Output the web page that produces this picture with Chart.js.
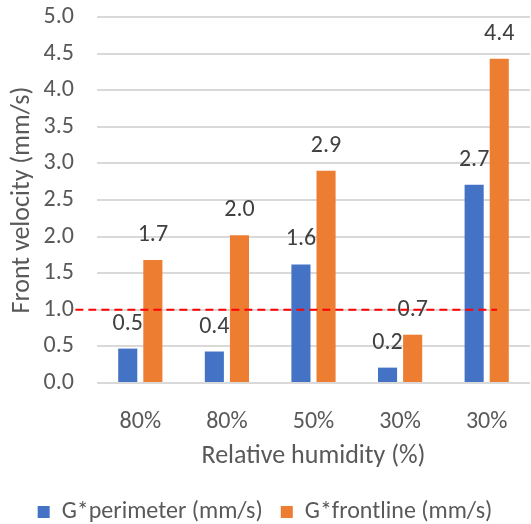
<!DOCTYPE html>
<html>
<head>
<meta charset="utf-8">
<script src="https://cdn.jsdelivr.net/npm/chart.js@4/dist/chart.umd.min.js"></script>
<style>
  html, body { margin: 0; padding: 0; background: #fff; }
  #wrap { width: 531px; height: 524px; }
</style>
</head>
<body>
<div id="wrap"><canvas id="velocity"></canvas></div>
<script>
const categories = ['80%', '80%', '50%', '30%', '30%'];
const perimeter = [0.47, 0.43, 1.62, 0.21, 2.71];
const frontline = [1.68, 2.02, 2.90, 0.66, 4.43];
const yTicks = [0, 0.5, 1, 1.5, 2, 2.5, 3, 3.5, 4, 4.5, 5];
const threshold = 1.0;
// ends of the dashed threshold, in category units along the x axis
const thresholdSpan = [-0.75, 4.12];

const textColor = '#595959';
const fontFamily = 'Carlito, Lato, sans-serif';
Chart.defaults.font.family = fontFamily;
Chart.defaults.font.size = 24;
Chart.defaults.color = textColor;

// value labels over each bar
const barLabels = {
	id: 'barLabels',
	afterDatasetDraw(chart, args) {
		const meta = args.meta;
		if (meta.type !== 'bar') return;
		const ctx = chart.ctx;
		const values = chart.data.datasets[args.index].data;
		ctx.save();
		ctx.font = '24px ' + fontFamily;
		ctx.fillStyle = '#404040';
		ctx.textAlign = 'center';
		ctx.textBaseline = 'middle';
		meta.data.forEach((bar, i) => {
			ctx.fillText(values[i].toFixed(1), bar.x, bar.y - 25);
		});
		ctx.restore();
	},
};

// red dashed threshold, drawn on top of bars and labels
const thresholdLine = {
	id: 'thresholdLine',
	afterDatasetsDraw(chart) {
		const { ctx, scales } = chart;
		const y = scales.y.getPixelForValue(threshold);
		ctx.save();
		ctx.strokeStyle = '#ff0000';
		ctx.lineWidth = 2;
		ctx.setLineDash([8, 5]);
		ctx.beginPath();
		ctx.moveTo(scales.x.getPixelForValue(thresholdSpan[0]), y);
		ctx.lineTo(scales.x.getPixelForValue(thresholdSpan[1]), y);
		ctx.stroke();
		ctx.restore();
	},
};

new Chart(document.getElementById('velocity'), {
	type: 'bar',
	data: {
		labels: categories,
		datasets: [
			{
				label: 'G*perimeter (mm/s)',
				data: perimeter,
				backgroundColor: '#4472c4',
				categoryPercentage: 0.58,
				barPercentage: 0.76,
			},
			{
				label: 'G*frontline (mm/s)',
				data: frontline,
				backgroundColor: '#ed7d31',
				categoryPercentage: 0.58,
				barPercentage: 0.76,
			},
		],
	},
	options: {
		responsive: true,
		maintainAspectRatio: false,
		animation: false,
		layout: { padding: { top: 17, right: 1, left: 0, bottom: 0 } },
		scales: {
			x: {
				afterFit(scale) {
					scale.height = 99;
					scale.paddingLeft = 0;
					scale.paddingRight = 0;
				},
				grid: { display: false },
				border: { display: false },
				ticks: { padding: 17, color: textColor },
				title: {
					display: true,
					text: 'Relative humidity (%)',
					color: textColor,
					font: { size: 26 },
					padding: { top: 4, bottom: 10 },
				},
			},
			y: {
				min: 0,
				max: 5,
				afterBuildTicks(scale) {
					scale.ticks = yTicks.map((v) => ({ value: v }));
				},
				afterFit(scale) {
					scale.width = 97;
					scale.paddingTop = 0;
					scale.paddingBottom = 0;
				},
				grid: { color: '#d9d9d9', lineWidth: 2, drawTicks: false },
				border: { display: false },
				ticks: {
					padding: 23,
					color: textColor,
					callback: (v) => v.toFixed(1),
				},
				title: {
					display: true,
					text: 'Front velocity (mm/s)',
					color: textColor,
					font: { size: 26 },
					padding: { top: 7, bottom: 0 },
				},
			},
		},
		plugins: {
			tooltip: { enabled: false },
			legend: {
				position: 'bottom',
				maxHeight: 42,
				labels: {
					boxWidth: 12,
					boxHeight: 12,
					padding: 18,
					color: textColor,
				},
			},
		},
	},
	plugins: [barLabels, thresholdLine],
});
</script>
</body>
</html>
